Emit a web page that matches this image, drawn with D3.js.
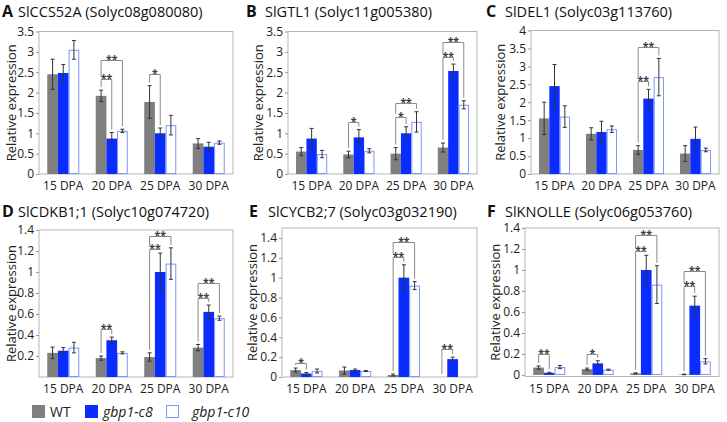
<!DOCTYPE html>
<html><head><meta charset="utf-8">
<script src="https://cdn.jsdelivr.net/npm/d3@7"></script>
<style>
body{margin:0;background:#fff;}
svg{display:block;font-family:"Open Sans",sans-serif;}
</style></head>
<body><svg id="c" width="727" height="422"></svg>
<script>
// ---------- data ----------
const groups = ["15 DPA", "20 DPA", "25 DPA", "30 DPA"];
const seriesNames = ["WT", "gbp1-c8", "gbp1-c10"];
const panelLetters = ["A", "B", "C", "D", "E", "F"];
const panelTitles = [
  "SlCCS52A (Solyc08g080080)",
  "SlGTL1 (Solyc11g005380)",
  "SlDEL1 (Solyc03g113760)",
  "SlCDKB1;1 (Solyc10g074720)",
  "SlCYCB2;7 (Solyc03g032190)",
  "SlKNOLLE (Solyc06g053760)"
];
const yMaxes = [3.5, 3.5, 4, 1.4, 1.5, 1.4];
const yTickLists = [
  [0, 0.5, 1, 1.5, 2, 2.5, 3, 3.5],
  [0, 0.5, 1, 1.5, 2, 2.5, 3, 3.5],
  [0, 0.5, 1, 1.5, 2, 2.5, 3, 3.5, 4],
  [0.2, 0.4, 0.6, 0.8, 1, 1.2, 1.4],
  [0, 0.2, 0.4, 0.6, 0.8, 1, 1.2, 1.4],
  [0, 0.2, 0.4, 0.6, 0.8, 1, 1.2, 1.4]
];
// means per group: [WT, gbp1-c8, gbp1-c10]
const meanA = [[2.45, 2.48, 3.05], [1.92, 0.87, 1.06], [1.77, 1.0, 1.2], [0.75, 0.67, 0.77]];
const errA  = [[0.37, 0.21, 0.23], [0.14, 0.15, 0.04], [0.40, 0.13, 0.24], [0.12, 0.11, 0.04]];
const sigA  = [[1, 1, 2.33, "**"], [1, 2, 2.8, "**"], [2, 1, 2.46, "*"]];

const meanB = [[0.55, 0.87, 0.49], [0.48, 0.9, 0.57], [0.5, 1.0, 1.28], [0.65, 2.53, 1.7]];
const errB  = [[0.10, 0.25, 0.09], [0.08, 0.19, 0.05], [0.15, 0.16, 0.25], [0.11, 0.17, 0.10]];
const sigB  = [[1, 1, 1.28, "*"], [2, 1, 1.4, "*"], [2, 2, 1.74, "**"], [3, 1, 2.88, "**"], [3, 2, 3.23, "**"]];

const meanC = [[1.55, 2.45, 1.6], [1.12, 1.17, 1.25], [0.67, 2.1, 2.7], [0.57, 0.98, 0.67]];
const errC  = [[0.45, 0.6, 0.3], [0.17, 0.3, 0.09], [0.12, 0.26, 0.52], [0.22, 0.33, 0.05]];
const sigC  = [[2, 1, 2.58, "**"], [2, 2, 3.55, "**"]];

const meanD = [[0.23, 0.25, 0.28], [0.18, 0.35, 0.23], [0.19, 1.0, 1.08], [0.28, 0.62, 0.56]];
const errD  = [[0.055, 0.03, 0.05], [0.02, 0.03, 0.01], [0.04, 0.18, 0.15], [0.03, 0.065, 0.02]];
const sigD  = [[1, 1, 0.46, "**"], [2, 1, 1.22, "**"], [2, 2, 1.34, "**"], [3, 1, 0.75, "**"], [3, 2, 0.9, "**"]];

const meanE = [[0.07, 0.035, 0.06], [0.065, 0.07, 0.06], [0.02, 1.0, 0.92], [0, 0.18, 0]];
const errE  = [[0.02, 0.01, 0.02], [0.035, 0.01, 0.005], [0.01, 0.13, 0.04], [0, 0.02, 0]];
const sigE  = [[0, 1, 0.14, "*"], [2, 1, 1.21, "**"], [2, 2, 1.36, "**"], [3, 1, 0.28, "**"]];

const meanF = [[0.07, 0.02, 0.075], [0.055, 0.11, 0.05], [0.015, 1.0, 0.86], [0.005, 0.66, 0.13]];
const errF  = [[0.015, 0.005, 0.015], [0.01, 0.025, 0.005], [0.005, 0.14, 0.18], [0.003, 0.09, 0.025]];
const sigF  = [[0, 1, 0.2, "**"], [1, 1, 0.2, "*"], [2, 1, 1.18, "**"], [2, 2, 1.33, "**"], [3, 1, 0.845, "**"], [3, 2, 0.99, "**"]];

const allMeans = [meanA, meanB, meanC, meanD, meanE, meanF];
const allErrs = [errA, errB, errC, errD, errE, errF];
const allSigs = [sigA, sigB, sigC, sigD, sigE, sigF];

// ---------- layout ----------
const frames = [
  {l: 39, r: 233, t: 31.5, b: 174, lx: 2, tx: 18, ty: 17, yl: 12},
  {l: 288, r: 477, t: 31.5, b: 174, lx: 246, tx: 265, ty: 17, yl: 259},
  {l: 531, r: 719, t: 30.5, b: 174, lx: 486, tx: 505, ty: 17, yl: 501},
  {l: 39, r: 233, t: 230, b: 377, lx: 2, tx: 18, ty: 216.5, yl: 12},
  {l: 282, r: 477, t: 228, b: 377, lx: 249, tx: 268, ty: 216.5, yl: 253},
  {l: 525, r: 719, t: 228, b: 376.5, lx: 487, tx: 505, ty: 216.5, yl: 496}
];
const yMins = [0, 0, 0, 0, 0, -0.015];

const colors = {fill: ["#7f7f7f", "#0a2cff", "#ffffff"], stroke: ["#7f7f7f", "#0a2cff", "#7a96ff"]};
const svg = d3.select("#c");
const fmt = d => String(+d.toFixed(1));

allMeans.forEach((means, pi) => {
  const f = frames[pi];
  const g = svg.append("g");
  const x = d3.scaleBand().domain(groups).range([f.l, f.r]).paddingInner(0.34).paddingOuter(0.17);
  const xs = d3.scaleBand().domain(seriesNames).range([0, x.bandwidth()]);
  const y = d3.scaleLinear().domain([yMins[pi], yMaxes[pi]]).range([f.b, f.t]);

  // box
  g.append("rect").attr("x", f.l).attr("y", f.t).attr("width", f.r - f.l).attr("height", f.b - f.t)
    .attr("fill", "none").attr("stroke", "#b5b5b5").attr("stroke-width", 1);

  // y axis
  const ax = g.append("g").attr("transform", `translate(${f.l},0)`)
    .call(d3.axisLeft(y).tickValues(yTickLists[pi]).tickFormat(fmt).tickSize(3).tickPadding(2));
  ax.select(".domain").remove();
  ax.selectAll(".tick line").attr("stroke", "#999");
  ax.selectAll(".tick text").attr("fill", "#222").style("font-size", "12px").style("font-family", "'Open Sans',sans-serif");

  // x labels
  g.append("g").selectAll("text").data(groups).join("text")
    .attr("x", d => x(d) + x.bandwidth() / 2).attr("y", f.b + 16)
    .attr("text-anchor", "middle").attr("fill", "#222").style("font-size", "12px").text(d => d);

  // y title
  g.append("text").attr("transform", `translate(${f.yl + 4},${(f.t + f.b) / 2}) rotate(-90)`)
    .attr("text-anchor", "middle").attr("fill", "#222").style("font-size", "13px").text("Relative expression");

  // panel title
  g.append("text").attr("x", f.lx).attr("y", f.ty).style("font-size", "16px").style("font-weight", "bold").attr("fill", "#111").text(panelLetters[pi]);
  g.append("text").attr("x", f.tx).attr("y", f.ty).style("font-size", "14.5px").attr("fill", "#111").text(panelTitles[pi]);

  // bars
  const errs = allErrs[pi];
  groups.forEach((grp, gi) => {
    seriesNames.forEach((s, si) => {
      const v = means[gi][si];
      const e = errs[gi][si];
      const bx = x(grp) + xs(s);
      const bw = xs.bandwidth();
      if (v > 0) {
        const inset = si === 2 ? 0.5 : 0;
        g.append("rect").attr("x", bx + inset).attr("y", y(v) + inset)
          .attr("width", bw - 2 * inset).attr("height", Math.max(0, y(0) - y(v) - 2 * inset))
          .attr("fill", colors.fill[si]).attr("stroke", si === 2 ? colors.stroke[si] : "none").attr("stroke-width", 1);
      }
      if (e > 0) {
        const cx = bx + bw / 2;
        g.append("line").attr("x1", cx).attr("x2", cx).attr("y1", y(v - e)).attr("y2", y(v + e)).attr("stroke", "#333").attr("stroke-width", 1);
        [v - e, v + e].forEach(val => g.append("line").attr("x1", cx - 2).attr("x2", cx + 2)
          .attr("y1", y(val)).attr("y2", y(val)).attr("stroke", "#333").attr("stroke-width", 1));
      }
    });
  });

  // significance brackets
  const sigs = allSigs[pi];
  sigs.forEach(sg => {
    const [gi, ti, level, lab] = sg;
    const grp = groups[gi];
    const x0 = x(grp) + xs(seriesNames[0]) + xs.bandwidth() / 2;
    const x1 = x(grp) + xs(seriesNames[ti]) + xs.bandwidth() / 2;
    const ly = Math.round(y(level)) + 0.5;
    const lower = sigs.filter(o => o[0] === gi && o[2] < level).map(o => o[2]);
    const leftEndVal = lower.length ? d3.max(lower) : means[gi][0] + errs[gi][0];
    const leftEnd = y(leftEndVal) - 3;
    const rightEnd = y(means[gi][ti] + errs[gi][ti]) - 3;
    g.append("path").attr("d", `M${x0},${leftEnd}V${ly}H${x1}V${rightEnd}`)
      .attr("fill", "none").attr("stroke", "#8a8a8a").attr("stroke-width", 1);
    g.append("text").attr("x", (x0 + x1) / 2).attr("y", ly + 2).attr("text-anchor", "middle")
      .attr("fill", "#3a3a3a").style("font-size", "10.5px").style("font-weight", "700").text(lab);
  });
});

// legend
const legendX = [32, 85, 166];
const legendTextX = [50, 103, 192];
const lg = svg.append("g");
seriesNames.forEach((s, i) => {
  lg.append("rect").attr("x", legendX[i] + 0.5).attr("y", 405.5).attr("width", 12).attr("height", 12)
    .attr("fill", colors.fill[i]).attr("stroke", colors.stroke[i]).attr("stroke-width", 1);
  lg.append("text").attr("x", legendTextX[i]).attr("y", 417).attr("fill", "#222")
    .style("font-size", "14px").style("font-style", i === 0 ? "normal" : "italic").text(s);
});
</script></body></html>
